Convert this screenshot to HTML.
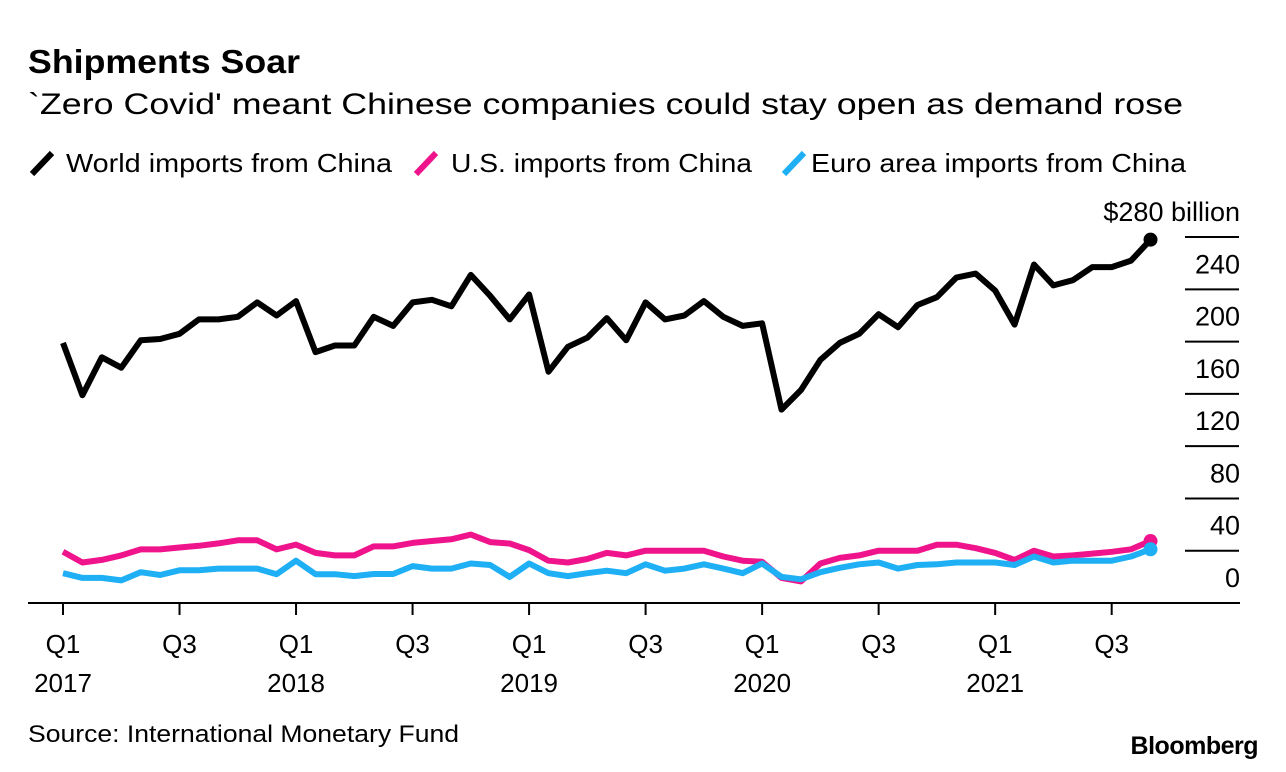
<!DOCTYPE html>
<html><head><meta charset="utf-8"><style>
html,body{margin:0;padding:0;background:#fff;}
svg{display:block;font-family:"Liberation Sans",Arial,sans-serif;}
</style></head><body>
<svg id="chart" width="1286" height="772" viewBox="0 0 1286 772" xmlns="http://www.w3.org/2000/svg">
<text x="28" y="73" font-size="33" font-weight="bold" textLength="272" lengthAdjust="spacingAndGlyphs">Shipments Soar</text>
<text x="28" y="114" font-size="30" textLength="1155" lengthAdjust="spacingAndGlyphs">`Zero Covid' meant Chinese companies could stay open as demand rose</text>
<g>
<g><line x1="32" y1="174" x2="52" y2="153" stroke="#000" stroke-width="6"/><text x="66" y="172" font-size="26" textLength="326" lengthAdjust="spacingAndGlyphs">World imports from China</text></g>
<g><line x1="416" y1="174" x2="436" y2="153" stroke="#f0148c" stroke-width="6"/><text x="451" y="172" font-size="26" textLength="301" lengthAdjust="spacingAndGlyphs">U.S. imports from China</text></g>
<g><line x1="784" y1="174" x2="804" y2="153" stroke="#1eaff5" stroke-width="6"/><text x="811" y="172" font-size="26" textLength="375" lengthAdjust="spacingAndGlyphs">Euro area imports from China</text></g>
</g>
<g id="grid"></g>
<g id="xaxis"></g>
<g id="series"></g>
<text x="28" y="742" font-size="24" textLength="431" lengthAdjust="spacingAndGlyphs">Source: International Monetary Fund</text>
<text x="1258" y="754" font-size="25" font-weight="bold" text-anchor="end" letter-spacing="-0.5">Bloomberg</text>
</svg>
<script>
const world=[199,159,188,180,201,202,206,217,217,219,230,220,231,192,197,197,219,212,230,232,227,251,235,217,236,177,196,203,218,201,230,217,220,231,219,212,214,148,163,186,199,206,221,211,228,234,249,252,239,213,259,243,247,257,257,262,278];
const us=[39.2,31,33,36.4,41,41,42.5,43.8,45.6,48,48,41,44.7,38.3,36.4,36.4,43.3,43.3,46,47.4,48.7,52.3,46.6,45.5,40.5,32.4,31,33.7,38.3,36.4,40,40,40,40,35.6,32.4,31.5,19.2,16.5,30.2,34.5,36.4,40,40,40,44.6,44.6,41.9,38.3,32.9,40,35.6,36.4,37.8,39.2,41.1,47.4];
const euro=[22.8,19.2,19.2,17.3,23.6,21.4,25,25,26.3,26.3,26.3,22,32.4,22,22,20.6,22.2,22.2,28.2,26.3,26.3,30.2,29.1,20,30.2,22.8,20.6,22.8,24.7,22.8,29.6,24.7,26.3,29.6,26.3,22.8,30.2,20,18.1,23.6,26.9,29.6,31,26.3,29.1,29.6,31,31,31,29.1,35.6,31,32.4,32.4,32.4,35.6,41.1];
const yTicks=[0,40,80,120,160,200,240,280];
const yTickLabels=["0","40","80","120","160","200","240","$280 billion"];
const quarterLabels=["Q1","Q3","Q1","Q3","Q1","Q3","Q1","Q3","Q1","Q3"];
const yearLabels=["2017","","2018","","2019","","2020","","2021",""];
const NS="http://www.w3.org/2000/svg";
function x(i){return 63+i*19.42;}
function y(v){return 603-v*1.307;}
function mk(tag,attrs,parent){const e=document.createElementNS(NS,tag);for(const k in attrs)e.setAttribute(k,attrs[k]);parent.appendChild(e);return e;}
const grid=document.getElementById('grid');
yTicks.forEach((t,i)=>{
  if(t>0){const l=mk('line',{x1:1185,x2:1239,y1:y(t),y2:y(t),stroke:'#000','stroke-width':2},grid);
  
  }
  const tx=mk('text',{x:1240,y:y(t)-16,'font-size':27,'text-anchor':'end'},grid);
  
  
  tx.textContent=yTickLabels[i];
});
const xa=document.getElementById('xaxis');
const base=mk('line',{x1:28,x2:1240,y1:603,y2:603,stroke:'#000','stroke-width':2},xa);


quarterLabels.forEach((q,k)=>{
  const xi=x(k*6);
  const tk=mk('line',{x1:xi,x2:xi,y1:603,y2:615,stroke:'#000','stroke-width':2},xa);
  
  
  const t1=mk('text',{x:xi,y:653,'font-size':26,'text-anchor':'middle'},xa);
  
  
  t1.textContent=q;
  if(yearLabels[k]){const t2=mk('text',{x:xi,y:692,'font-size':26,'text-anchor':'middle'},xa);
  
  
  t2.textContent=yearLabels[k];}
});
const sg=document.getElementById('series');
function draw(arr,color,name){
  const d=arr.map((v,i)=>(i?'L':'M')+x(i).toFixed(1)+','+y(v).toFixed(1)).join(' ');
  const p=mk('path',{d:d,fill:'none',stroke:color,'stroke-width':6,'stroke-linejoin':'round'},sg);
  
  
  const n=arr.length-1;
  const c=mk('circle',{cx:x(n),cy:y(arr[n]),r:7,fill:color},sg);
  
  
}
draw(us,'#f0148c','us-imports');
draw(euro,'#1eaff5','euro-imports');
draw(world,'#000','world-imports');
</script>
</body></html>
